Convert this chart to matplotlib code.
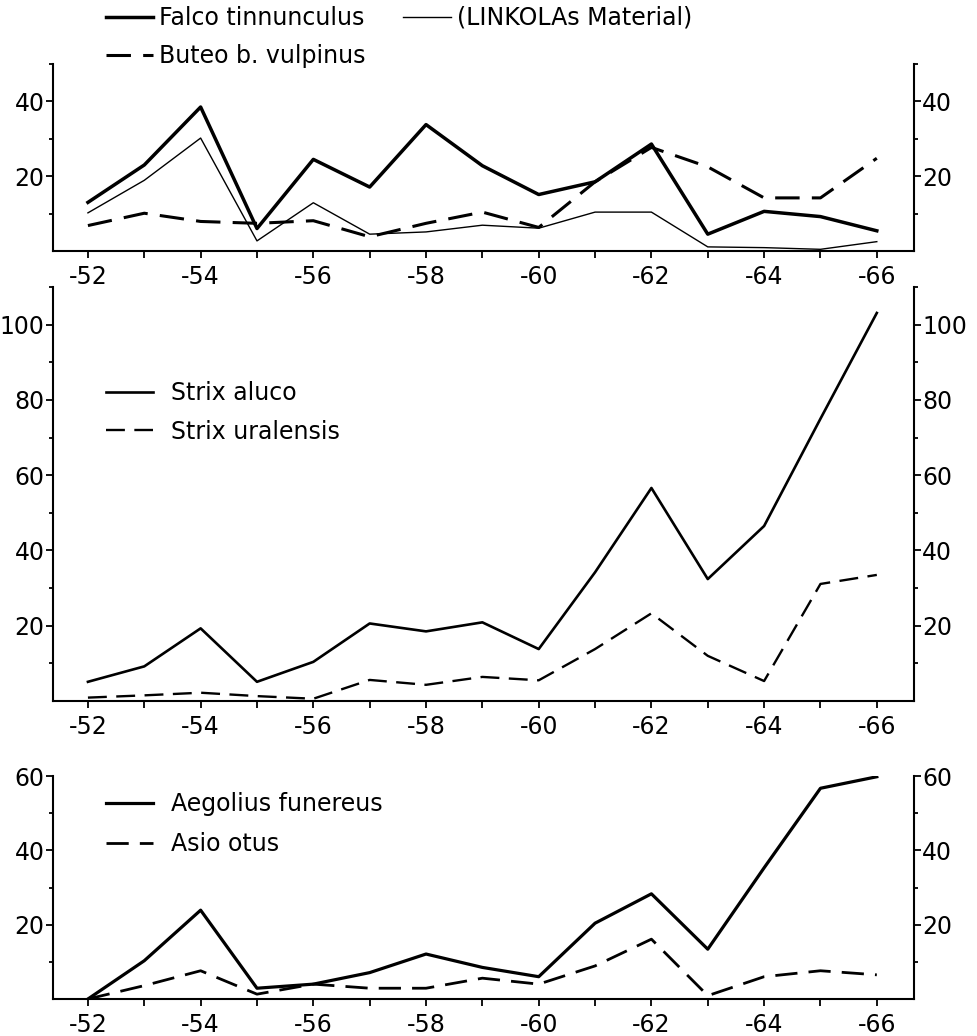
import numpy as np
import matplotlib.pyplot as plt
from matplotlib.ticker import FixedLocator

plt.rcParams['font.family'] = ['DejaVu Sans']
plt.rcParams['font.size'] = 17

years = list(range(52, 67))
year_labels = [f"-{y}" if y % 2 == 0 else "" for y in years]

# top panel
falco = [13, 23, 38.5, 6, 24.5, 17.1, 33.8, 22.8, 15.1, 18.5, 28.6, 4.5, 10.6, 9.2, 5.4]
linkola = [10.2, 18.9, 30.2, 2.7, 12.9, 4.5, 5.1, 6.9, 6.1, 10.4, 10.4, 1.1, 0.9, 0.45, 2.5]
buteo = [6.8, 10.1, 7.9, 7.4, 8.1, 3.8, 7.4, 10.4, 6.3, 18.5, 27.7, 22.5, 14.2, 14.2, 24.8]

# middle panel
aluco = [5.1, 9.2, 19.3, 5.1, 10.4, 20.6, 18.5, 20.9, 13.8, 34.2, 56.6, 32.4, 46.5, 75, 103.1]
uralensis = [0.9, 1.5, 2.2, 1.3, 0.6, 5.6, 4.3, 6.4, 5.5, 13.8, 23.3, 12, 5.3, 31.1, 33.5]

# bottom panel
aegolius = [0, 10.3, 23.9, 2.9, 4.0, 7.1, 12.1, 8.5, 6.0, 20.4, 28.3, 13.4, 35.3, 56.7, 59.8]
asio = [0, 3.6, 7.6, 1.3, 4.0, 2.9, 2.9, 5.6, 4.0, 8.9, 16.1, 0.9, 6.0, 7.6, 6.5]

fig = plt.figure(figsize=(9.77, 10.36), dpi=100)

L, W = 53 / 977, 861 / 977
ax1 = fig.add_axes([L, 1 - 251 / 1036, W, 187 / 1036])
ax2 = fig.add_axes([L, 1 - 701 / 1036, W, 414 / 1036])
ax3 = fig.add_axes([L, 1 - 999 / 1036, W, 223 / 1036])

dash = (8, 4)


def style(ax, ymax, major, minor):
    ax.patch.set_visible(False)
    ax.set_xlim(51.38, 66.66)
    ax.set_ylim(0, ymax)
    ax.set_xticks(years)
    ax.set_xticklabels(year_labels)
    ax.yaxis.set_major_locator(FixedLocator(major))
    ax.yaxis.set_minor_locator(FixedLocator(minor))
    ax.spines['top'].set_visible(False)
    for s in ['left', 'right', 'bottom']:
        ax.spines[s].set_linewidth(1.5)
    ax.tick_params(axis='y', which='both', left=True, right=True,
                   labelleft=True, labelright=True, direction='out', pad=1)
    ax.tick_params(axis='y', which='major', length=5, width=1.3)
    ax.tick_params(axis='y', which='minor', length=3, width=1.3)
    ax.tick_params(axis='x', which='major', length=5, width=1.3, pad=5, direction='out')


leg_kw = dict(loc='upper left', bbox_transform=fig.transFigure, frameon=False,
              borderpad=0, borderaxespad=0, handlelength=2.0)

ax1.plot(years, falco, color='k', lw=2.5, label='Falco tinnunculus')
ax1.plot(years, buteo, color='k', lw=2.2, dashes=dash, label='Buteo b. vulpinus')
ax1.plot(years, linkola, color='k', lw=1.0, label='(LINKOLAs Material)')
style(ax1, 50, [20, 40], [10, 30, 50])
ax1.legend(bbox_to_anchor=(106 / 977, 1 - 6 / 1036), ncol=2,
           handletextpad=0.25, labelspacing=0.6, columnspacing=1.6, **leg_kw)

ax2.plot(years, aluco, color='k', lw=1.9, label='Strix aluco')
ax2.plot(years, uralensis, color='k', lw=1.7, dashes=dash, label='Strix uralensis')
style(ax2, 110, [20, 40, 60, 80, 100], [10, 30, 50, 70, 90, 110])
ax2.legend(bbox_to_anchor=(106 / 977, 1 - 381 / 1036),
           handletextpad=0.75, labelspacing=0.62, **leg_kw)

ax3.plot(years, aegolius, color='k', lw=2.3, label='Aegolius funereus')
ax3.plot(years, asio, color='k', lw=2.0, dashes=dash, label='Asio otus')
style(ax3, 60, [20, 40, 60], [10, 30, 50])
ax3.legend(bbox_to_anchor=(106 / 977, 1 - 792 / 1036),
           handletextpad=0.75, labelspacing=0.68, **leg_kw)

plt.savefig("out.png", dpi=100)
